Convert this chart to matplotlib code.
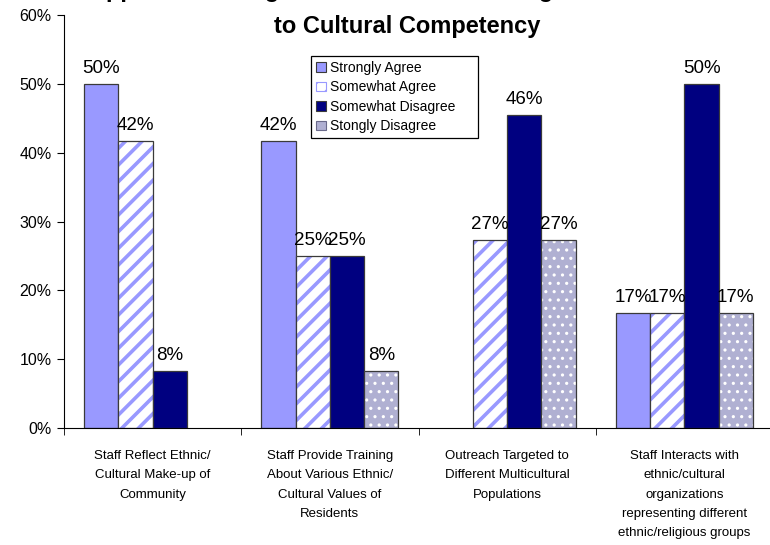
import matplotlib
matplotlib.use("Agg")
import matplotlib.pyplot as plt
import matplotlib.patches as mpatches
import numpy as np

# risposte per categoria (percentuali), None = nessuna barra
categories = [
    "Staff Reflect Ethnic/\nCultural Make-up of\nCommunity",
    "Staff Provide Training\nAbout Various Ethnic/\nCultural Values of\nResidents",
    "Outreach Targeted to\nDifferent Multicultural\nPopulations",
    "Staff Interacts with\nethnic/cultural\norganizations\nrepresenting different\nethnic/religious groups",
]
series_names = ["Strongly Agree", "Somewhat Agree", "Somewhat Disagree", "Stongly Disagree"]
strongly_agree = [50.0, 41.67, None, 16.67]
somewhat_agree = [41.67, 25.0, 27.27, 16.67]
somewhat_disagree = [8.33, 25.0, 45.5, 50.0]
strongly_disagree = [None, 8.33, 27.27, 16.67]
y_ticks = [0, 10, 20, 30, 40, 50, 60]
title = "Approach to Regional PHS in Addressing Issues Related\nto Cultural Competency"

plt.rcParams['font.family'] = ["Liberation Sans", "DejaVu Sans"]

W, H = 770, 545
fig = plt.figure(figsize=(W / 100, H / 100), dpi=100)
ax = fig.add_axes([64 / W, 1 - 428 / H, (773 - 64) / W, (428 - 15) / H])

x = np.arange(len(categories))
w = 0.1935
offs = np.array([-1.5, -0.5, 0.5, 1.5]) * w
edge = "#3a3a3a"

styles = [
    dict(facecolor="#9999FF", hatch=None, hcol=edge, hlw=1.0),
    dict(facecolor="white", hatch="//", hcol="#9999FF", hlw=2.6),
    dict(facecolor="#000080", hatch=None, hcol=edge, hlw=1.0),
    dict(facecolor="#B0B0D2", hatch="..", hcol="white", hlw=1.1),
]
all_series = [strongly_agree, somewhat_agree, somewhat_disagree, strongly_disagree]

for s, vals, off in zip(styles, all_series, offs):
    xs = [xi + off for xi, v in zip(x, vals) if v is not None]
    hs = [v for v in vals if v is not None]
    if s["hatch"]:
        # tratteggio col colore del bordo, poi il contorno scuro sopra
        with plt.rc_context({'hatch.linewidth': s["hlw"]}):
            ax.bar(xs, hs, w, color=s["facecolor"], edgecolor=s["hcol"], hatch=s["hatch"], linewidth=0)
        ax.bar(xs, hs, w, fill=False, edgecolor=edge, linewidth=0.9)
    else:
        ax.bar(xs, hs, w, color=s["facecolor"], edgecolor=edge, linewidth=0.9)
    for xi, h in zip(xs, hs):
        ax.annotate(f"{h:.0f}%", (xi, h), xytext=(0, 5), textcoords="offset points",
                    ha="center", va="bottom", fontsize=13.5)

ax.set_xlim(-0.5, len(categories) - 0.5)
ax.set_ylim(0, 60)
ax.set_yticks(y_ticks)
ax.set_yticklabels([f"{t}%" for t in y_ticks], fontsize=11.5)
ax.set_xticks(x)
ax.set_xticklabels(categories, fontsize=9.5, linespacing=1.8)
ax.set_xticks(np.arange(len(categories) + 1) - 0.5, minor=True)
ax.tick_params(axis="x", which="major", length=0, pad=16)
ax.tick_params(axis="x", which="minor", length=5, direction="out")
ax.tick_params(axis="y", length=5, direction="out", pad=4)
for sp in ["top", "right"]:
    ax.spines[sp].set_visible(False)

handles = []
for s, name in zip(styles, series_names):
    if s["hatch"] == "//":
        handles.append(mpatches.Patch(facecolor="white", edgecolor="#9999FF", hatch="//", linewidth=0.8, label=name))
    elif s["hatch"]:
        handles.append(mpatches.Patch(facecolor=s["facecolor"], edgecolor="#6a6a8a", linewidth=0.8, label=name))
    else:
        handles.append(mpatches.Patch(facecolor=s["facecolor"], edgecolor=edge, linewidth=0.8, label=name))
with plt.rc_context({'hatch.linewidth': 1.2}):
    leg = ax.legend(handles=handles, loc="upper left", bbox_to_anchor=(313 / W, 1 - 58 / H),
                    bbox_transform=fig.transFigure, fontsize=10, frameon=False,
                    borderaxespad=0, handlelength=0.7, handleheight=0.7,
                    handletextpad=0.35, labelspacing=0.4, borderpad=0.2)

# cornice della legenda
fig.patches.append(mpatches.Rectangle((311 / W, 1 - 138 / H), (478 - 311) / W, (138 - 56) / H,
                                      transform=fig.transFigure, fill=False,
                                      edgecolor="black", linewidth=0.9))

fig.text(407 / W, 1 - 38 / H, title, ha="center", va="bottom", fontsize=17,
         fontweight="bold", linespacing=1.75)

fig.savefig("out.png", dpi=100)
